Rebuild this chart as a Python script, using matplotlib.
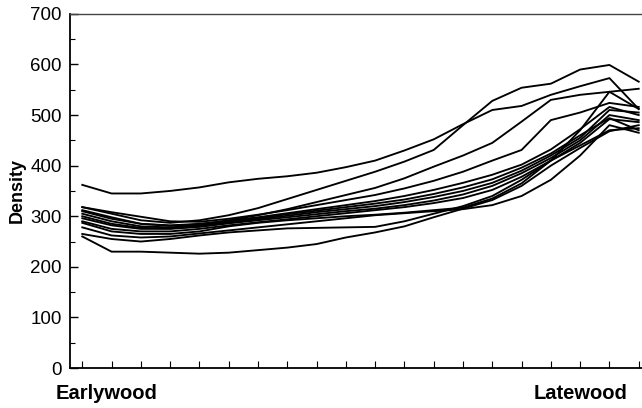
import matplotlib
matplotlib.use("Agg")
import matplotlib.pyplot as plt
from matplotlib.ticker import MultipleLocator

plt.rcParams["font.family"] = ["Liberation Sans", "DejaVu Sans"]

# positions across the ring, earlywood -> latewood
positions = list(range(20))

# density profiles, one per ring
ring_01 = [362, 345, 345, 350, 357, 367, 374, 379, 386, 397, 410, 430, 452, 482, 510, 518, 540, 557, 573, 512]
ring_02 = [318, 305, 292, 287, 292, 302, 316, 334, 352, 370, 388, 408, 431, 480, 528, 554, 562, 590, 599, 566]
ring_03 = [312, 298, 285, 281, 284, 292, 302, 314, 328, 342, 356, 375, 398, 420, 445, 487, 530, 540, 546, 552]
ring_04 = [318, 308, 299, 290, 289, 295, 303, 312, 322, 332, 342, 355, 370, 388, 410, 431, 490, 505, 524, 516]
ring_05 = [310, 295, 285, 282, 285, 291, 298, 306, 314, 322, 330, 340, 352, 366, 382, 402, 432, 472, 516, 500]
ring_06 = [305, 290, 280, 278, 282, 289, 296, 304, 311, 318, 325, 333, 344, 357, 373, 396, 424, 460, 494, 470]
ring_07 = [300, 285, 277, 276, 280, 287, 294, 301, 308, 314, 320, 328, 338, 350, 366, 390, 420, 455, 510, 505]
ring_08 = [296, 282, 275, 275, 279, 286, 292, 298, 304, 310, 315, 322, 331, 343, 360, 385, 415, 450, 500, 490]
ring_09 = [290, 275, 270, 270, 275, 282, 288, 294, 300, 306, 312, 318, 326, 336, 352, 378, 410, 445, 492, 486]
ring_10 = [287, 270, 265, 265, 270, 280, 287, 292, 296, 300, 303, 307, 312, 317, 335, 365, 410, 470, 546, 512]
ring_11 = [278, 262, 258, 260, 266, 272, 278, 284, 290, 296, 302, 306, 310, 314, 322, 340, 372, 420, 480, 465]
ring_12 = [265, 255, 250, 255, 262, 268, 272, 276, 277, 278, 279, 290, 305, 320, 340, 372, 410, 440, 470, 474]
ring_13 = [260, 230, 230, 228, 226, 228, 233, 238, 245, 258, 268, 280, 298, 315, 332, 360, 400, 435, 468, 480]

rings = [ring_01, ring_02, ring_03, ring_04, ring_05, ring_06, ring_07,
         ring_08, ring_09, ring_10, ring_11, ring_12, ring_13]

fig = plt.figure(figsize=(6.42, 4.08), dpi=100)
ax = fig.add_axes([0.109, 0.098, 0.895, 0.868])

for r in rings:
    ax.plot(positions, r, color="black", lw=1.35)

ax.set_xlim(-0.42, 19.2)
ax.set_ylim(0, 700)
ax.set_xticks(positions)
ax.set_xticklabels([])
ax.yaxis.set_major_locator(MultipleLocator(100))
ax.yaxis.set_minor_locator(MultipleLocator(50))
ax.tick_params(axis="y", which="major", direction="in", length=6, width=1,
               labelsize=13.5, pad=6)
ax.tick_params(axis="y", which="minor", direction="in", length=3.5, width=0.8)
ax.tick_params(axis="x", which="major", direction="in", length=5, width=0.8)

ax.spines["right"].set_visible(False)
ax.spines["left"].set_linewidth(1.3)
ax.spines["bottom"].set_linewidth(1.3)
ax.spines["top"].set_linewidth(1.0)
ax.spines["top"].set_color("#444444")

ax.set_ylabel("Density", fontsize=13, fontweight="bold", labelpad=3)

fig.text(0.086, 0.035, "Earlywood", fontsize=14.5, fontweight="bold", ha="left", va="center")
fig.text(0.978, 0.035, "Latewood", fontsize=14.5, fontweight="bold", ha="right", va="center")

fig.savefig("out.png", dpi=100)
